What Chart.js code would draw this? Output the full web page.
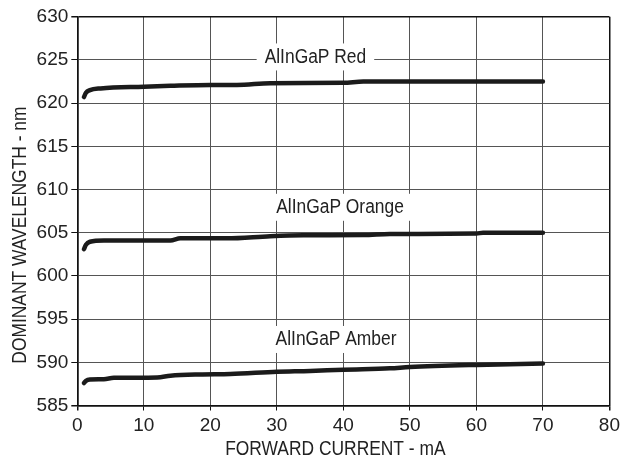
<!DOCTYPE html>
<html>
<head>
<meta charset="utf-8">
<script src="https://cdn.jsdelivr.net/npm/chart.js@4.4.1/dist/chart.umd.min.js"></script>
<style>
  html, body { margin: 0; padding: 0; background: #fff; }
  #wrap { width: 624px; height: 466px; }
</style>
</head>
<body>
<div id="wrap"><canvas id="chart" width="624" height="466"></canvas></div>
<script>
// Forward current (mA) / dominant wavelength (nm)
const redCurrent    = [1, 1.3, 1.9, 3.5, 10, 14, 20, 24, 29, 40, 43, 70];
const redWave       = [620.7, 621.2, 621.5, 621.7, 621.9, 622.0, 622.1, 622.1, 622.3, 622.35, 622.5, 622.5];

const orangeCurrent = [1, 1.3, 1.9, 4, 14, 15.5, 22.5, 29, 34, 43, 47, 60, 61, 70];
const orangeWave    = [603.1, 603.6, 603.95, 604.1, 604.1, 604.35, 604.35, 604.6, 604.7, 604.72, 604.85, 604.9, 605.0, 605.0];

const amberCurrent  = [1, 1.3, 1.9, 4, 5.5, 12, 14, 18.4, 23, 30, 35, 40, 47, 50, 60, 70];
const amberWave     = [587.6, 587.85, 588.0, 588.05, 588.2, 588.25, 588.45, 588.6, 588.65, 588.9, 589.0, 589.15, 589.3, 589.45, 589.7, 589.85];

const seriesNames   = ["AlInGaP Red", "AlInGaP Orange", "AlInGaP Amber"];
const xTicks        = [0, 10, 20, 30, 40, 50, 60, 70, 80];
const yTicks        = [585, 590, 595, 600, 605, 610, 615, 620, 625, 630];

const FONT   = "'Liberation Sans', Arial, sans-serif";
const INK    = "#1b1b1b";
const NARROW = 0.87;   // horizontal squeeze to mimic the condensed face

function toPoints(xs, ys) {
    return xs.map((x, i) => ({ x: x, y: ys[i] }));
}

function lineSet(label, xs, ys) {
    return {
        label: label,
        data: toPoints(xs, ys),
        borderColor: INK,
        borderWidth: 4.5,
        borderCapStyle: "round",
        borderJoinStyle: "round",
        cubicInterpolationMode: "monotone",
        pointRadius: 0,
        fill: false
    };
}

// curve labels (anchor in data units) with white boxes over the grid
const curveLabels = [
    { text: seriesNames[0], x: 35.8, y: 625.4 },
    { text: seriesNames[1], x: 39.5, y: 608.0 },
    { text: seriesNames[2], x: 38.9, y: 592.7 }
];

function narrowText(ctx, text, x, y, rot) {
    ctx.save();
    ctx.translate(x, y);
    if (rot) ctx.rotate(rot);
    ctx.scale(NARROW, 1);
    ctx.fillText(text, 0, 0);
    ctx.restore();
}

const annotate = {
    id: "annotate",
    afterDraw(chart) {
        const ctx = chart.ctx;
        const xs = chart.scales.x;
        const ys = chart.scales.y;
        const area = chart.chartArea;

        ctx.save();
        ctx.font = "20px " + FONT;
        ctx.textAlign = "center";
        ctx.textBaseline = "middle";
        curveLabels.forEach((l) => {
            const px = xs.getPixelForValue(l.x);
            const py = ys.getPixelForValue(l.y);
            const w = ctx.measureText(l.text).width * NARROW + 16;
            ctx.fillStyle = "#fff";
            ctx.fillRect(px - w / 2, py - 13, w, 27);
            ctx.fillStyle = "#222";
            narrowText(ctx, l.text, px, py + 1);
        });

        // axis titles
        ctx.fillStyle = "#222";
        narrowText(ctx, "FORWARD CURRENT - mA", (area.left + area.right) / 2 - 8, 449);
        narrowText(ctx, "DOMINANT WAVELENGTH - nm", 20, (area.top + area.bottom) / 2 + 24, -Math.PI / 2);
        ctx.restore();
    }
};

function edgeColor(min, max) {
    return (c) => {
        const v = c.tick && c.tick.value;
        return (v === min || v === max) ? "#111" : "#555";
    };
}

new Chart(document.getElementById("chart"), {
    type: "line",
    data: {
        datasets: [
            lineSet(seriesNames[0], redCurrent, redWave),
            lineSet(seriesNames[1], orangeCurrent, orangeWave),
            lineSet(seriesNames[2], amberCurrent, amberWave)
        ]
    },
    options: {
        responsive: false,
        animation: false,
        devicePixelRatio: 1,
        layout: { padding: { left: 0, right: 12.5, top: 16.7, bottom: 0 } },
        plugins: {
            legend: { display: false },
            tooltip: { enabled: false }
        },
        scales: {
            x: {
                type: "linear",
                min: 0,
                max: 80,
                afterBuildTicks: (s) => { s.ticks = xTicks.map((v) => ({ value: v })); },
                afterFit: (s) => { s.height = 60.5; },
                grid: {
                    color: edgeColor(0, 80),
                    lineWidth: (c) => (c.tick && (c.tick.value === 0 || c.tick.value === 80)) ? 1.5 : 1,
                    tickLength: 5,
                    tickColor: "#111"
                },
                border: { color: "#111", width: 1.5 },
                ticks: {
                    color: "#222",
                    padding: 4,
                    maxRotation: 0,
                    font: { family: FONT, size: 19 }
                }
            },
            y: {
                type: "linear",
                min: 585,
                max: 630,
                afterBuildTicks: (s) => { s.ticks = yTicks.map((v) => ({ value: v })); },
                afterFit: (s) => { s.width = 77.3; },
                grid: {
                    color: edgeColor(585, 630),
                    lineWidth: (c) => (c.tick && (c.tick.value === 585 || c.tick.value === 630)) ? 1.5 : 1,
                    tickLength: 6,
                    tickColor: "#111"
                },
                border: { color: "#111", width: 1.5 },
                ticks: {
                    color: "#222",
                    padding: 3,
                    font: { family: FONT, size: 19 }
                }
            }
        }
    },
    plugins: [annotate]
});
</script>
</body>
</html>
